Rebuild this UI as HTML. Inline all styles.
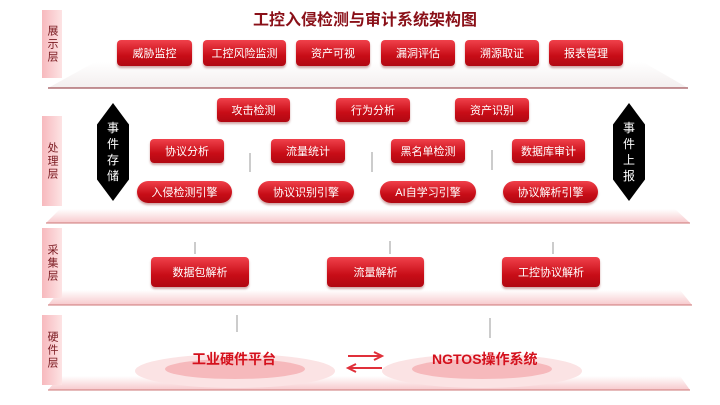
<!DOCTYPE html>
<html><head><meta charset="utf-8"><style>
body{margin:0;width:720px;height:405px;background:#fff;position:relative;overflow:hidden;font-family:"Liberation Sans","Noto Sans CJK SC",sans-serif}
.a{position:absolute}
.tab{position:absolute;left:42px;width:20px;background:linear-gradient(90deg,#f7b9bd,#fde3e4);color:#7a1a20;font-size:11px;line-height:14px;text-align:center;display:flex;align-items:center;justify-content:center;writing-mode:vertical-rl;letter-spacing:2px}
.b{position:absolute;height:26px;border-radius:4px;background:linear-gradient(#f0414b,#c80d17 60%,#b00812);color:#fff;font-size:11px;display:flex;align-items:center;justify-content:center;box-shadow:0 2px 2px rgba(120,0,0,.35)}
.p{border-radius:12px;height:22px}
.hex{position:absolute;width:32px;height:98px;background:#000;clip-path:polygon(50% 0,100% 22%,100% 78%,50% 100%,0 78%,0 22%);color:#fff;font-size:12px;line-height:16px;display:flex;align-items:center;justify-content:center;text-align:center}
.t{position:absolute;font-size:14px;font-weight:bold;color:#d4101c}
</style></head><body>
<div class="a" style="left:0;top:6px;width:720px;text-align:center;font-size:16px;font-weight:bold;color:#8a1018;padding-left:5px">工控入侵检测与审计系统架构图</div>
<svg class="a" style="left:0;top:0" width="720" height="405">
<defs><linearGradient id="g" x1="0" y1="0" x2="0" y2="1"><stop offset="0" stop-color="#fff"/><stop offset="1" stop-color="#f7c9cc"/></linearGradient>
<linearGradient id="g2" x1="0" y1="0" x2="0" y2="1"><stop offset="0" stop-color="#fff"/><stop offset="1" stop-color="#f3eeee"/></linearGradient></defs>
<polygon points="95,62 643,62 688,88 48,88" fill="url(#g2)"/><line x1="48" y1="88" x2="688" y2="88" stroke="#8a2a30" stroke-width="1"/>
<polygon points="60,209 675,209 690,223 46,223" fill="url(#g)"/><line x1="46" y1="223" x2="690" y2="223" stroke="#c77" stroke-width="1"/>
<polygon points="60,290 680,290 692,305 48,305" fill="url(#g)"/><line x1="48" y1="305" x2="692" y2="305" stroke="#c77" stroke-width="1"/>
<polygon points="60,376 680,376 690,390 48,390" fill="url(#g)"/><line x1="48" y1="390" x2="690" y2="390" stroke="#c77" stroke-width="1"/>
<ellipse cx="235" cy="371" rx="100" ry="17" fill="#fbe3e4"/><ellipse cx="235" cy="369" rx="70" ry="10" fill="#f6b9bc"/>
<ellipse cx="482" cy="371" rx="100" ry="17" fill="#fbe3e4"/><ellipse cx="482" cy="369" rx="70" ry="10" fill="#f6b9bc"/>
<path d="M348,356 L380,356 M374,352 L382,356 L374,360" stroke="#e0303a" stroke-width="2" fill="none"/>
<path d="M350,368 L382,368 M356,364 L348,368 L356,372" stroke="#e0303a" stroke-width="2" fill="none"/>
<g stroke="#999" stroke-width="1">
<line x1="237" y1="315" x2="237" y2="332"/><line x1="490" y1="318" x2="490" y2="338"/>
<line x1="195" y1="242" x2="195" y2="254"/><line x1="390" y1="241" x2="390" y2="254"/><line x1="553" y1="242" x2="553" y2="254"/>
<line x1="250" y1="153" x2="250" y2="172"/><line x1="372" y1="152" x2="372" y2="172"/><line x1="492" y1="150" x2="492" y2="170"/>
</g></svg>
<div class="tab" style="top:10px;height:68px">展示层</div>
<div class="tab" style="top:116px;height:90px">处理层</div>
<div class="tab" style="top:228px;height:70px">采集层</div>
<div class="tab" style="top:315px;height:70px">硬件层</div>
<div class="b" style="left:117px;top:40px;width:75px">威胁监控</div>
<div class="b" style="left:203px;top:40px;width:83px">工控风险监测</div>
<div class="b" style="left:296px;top:40px;width:74px">资产可视</div>
<div class="b" style="left:381px;top:40px;width:74px">漏洞评估</div>
<div class="b" style="left:465px;top:40px;width:74px">溯源取证</div>
<div class="b" style="left:549px;top:40px;width:74px">报表管理</div>
<div class="b" style="left:217px;top:98px;width:73px;height:24px">攻击检测</div>
<div class="b" style="left:336px;top:98px;width:74px;height:24px">行为分析</div>
<div class="b" style="left:455px;top:98px;width:74px;height:24px">资产识别</div>
<div class="b" style="left:150px;top:139px;width:74px;height:24px">协议分析</div>
<div class="b" style="left:271px;top:139px;width:74px;height:24px">流量统计</div>
<div class="b" style="left:391px;top:139px;width:74px;height:24px">黑名单检测</div>
<div class="b" style="left:512px;top:139px;width:73px;height:24px">数据库审计</div>
<div class="b p" style="left:137px;top:181px;width:95px">入侵检测引擎</div>
<div class="b p" style="left:258px;top:181px;width:96px">协议识别引擎</div>
<div class="b p" style="left:380px;top:181px;width:96px">AI自学习引擎</div>
<div class="b p" style="left:503px;top:181px;width:95px">协议解析引擎</div>
<div class="hex" style="left:97px;top:103px">事<br>件<br>存<br>储</div>
<div class="hex" style="left:613px;top:103px">事<br>件<br>上<br>报</div>
<div class="b" style="left:151px;top:257px;width:98px;height:30px">数据包解析</div>
<div class="b" style="left:327px;top:257px;width:97px;height:30px">流量解析</div>
<div class="b" style="left:502px;top:257px;width:98px;height:30px">工控协议解析</div>
<div class="t" style="left:192px;top:349px">工业硬件平台</div>
<div class="t" style="left:432px;top:349px">NGTOS操作系统</div>
</body></html>
